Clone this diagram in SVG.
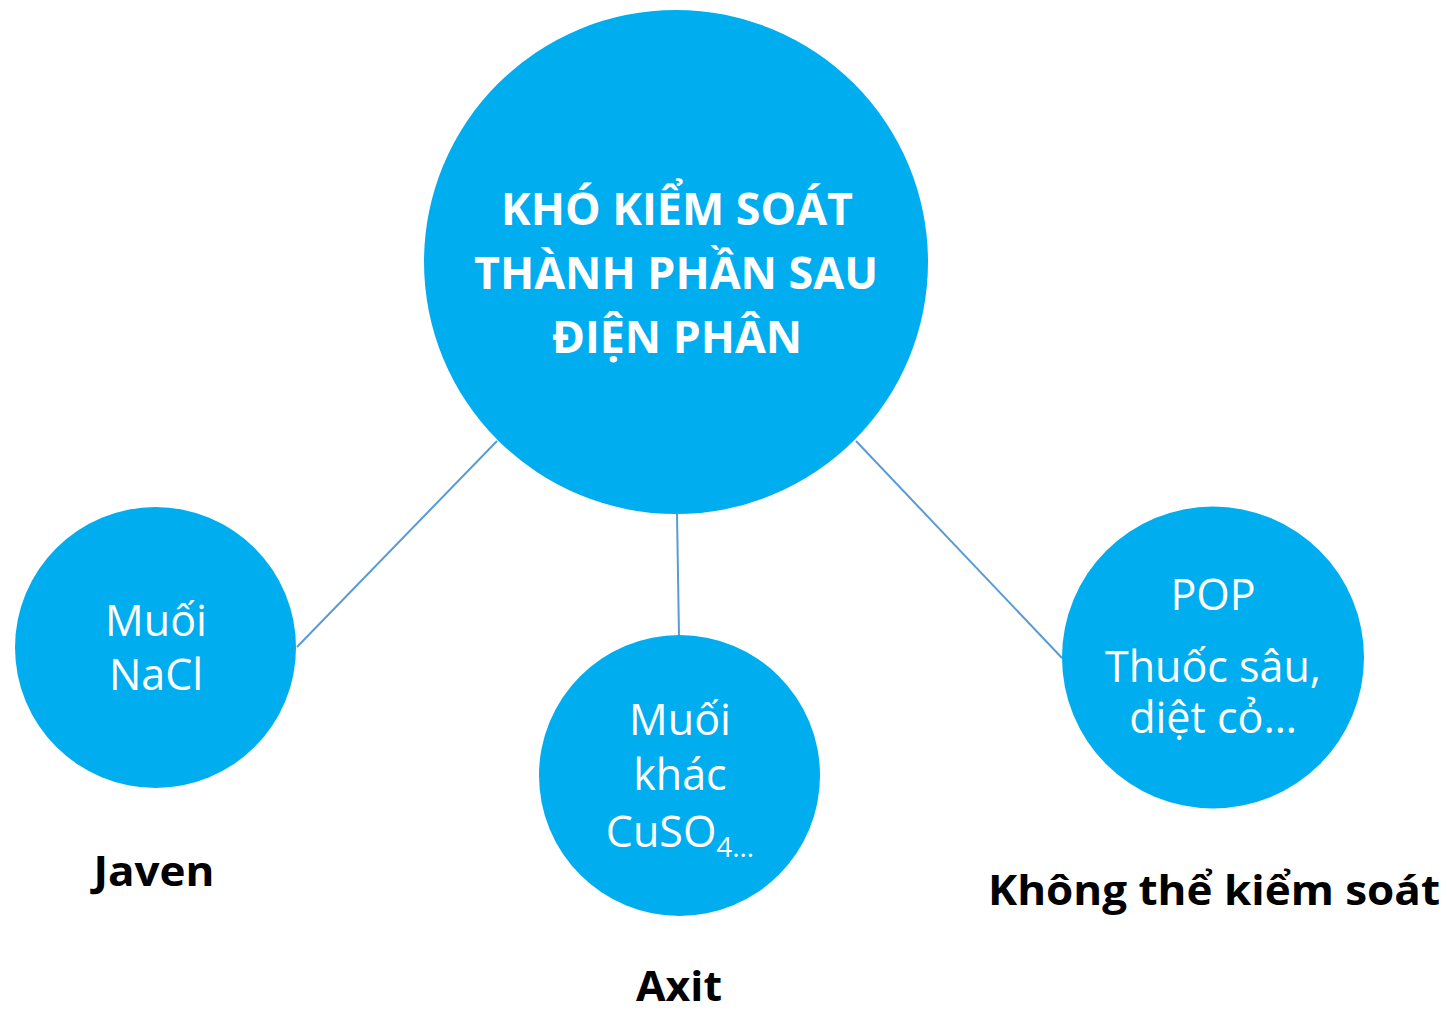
<svg xmlns="http://www.w3.org/2000/svg" width="1447" height="1010" viewBox="0 0 1447 1010">
<style>
.node{fill:#00AEEF;}
.conn{stroke:#5B9BD5;stroke-width:2;fill:none;}
.big{font-family:"Open Sans","Noto Sans",sans-serif;font-weight:bold;font-size:45px;fill:#FFFFFF;text-anchor:middle;}
.sm{font-family:"Open Sans","Noto Sans",sans-serif;font-size:43px;fill:#FFFFFF;text-anchor:middle;}
.lab{font-family:"Open Sans","Noto Sans",sans-serif;font-weight:bold;font-size:42px;fill:#000000;text-anchor:middle;}
</style>
<rect width="1447" height="1010" fill="#FFFFFF"/>
<g id="connectors">
<line class="conn" x1="497" y1="441" x2="297" y2="647"/>
<line class="conn" x1="677" y1="514" x2="679" y2="636"/>
<line class="conn" x1="856" y1="441" x2="1062" y2="658"/>
</g>
<g id="center">
<circle class="node" cx="676" cy="262" r="252"/>
<text class="big" x="677" y="225" textLength="352" lengthAdjust="spacingAndGlyphs">KHÓ KIỂM SOÁT</text>
<text class="big" x="676" y="289" textLength="404" lengthAdjust="spacingAndGlyphs">THÀNH PHẦN SAU</text>
<text class="big" x="677" y="353" textLength="250" lengthAdjust="spacingAndGlyphs">ĐIỆN PHÂN</text>
</g>
<g id="nacl">
<circle class="node" cx="155.5" cy="647.5" r="140.5"/>
<text class="sm" x="156" y="636">Muối</text>
<text class="sm" x="156" y="690">NaCl</text>
</g>
<g id="cuso4">
<circle class="node" cx="679.5" cy="775.5" r="140.5"/>
<text class="sm" x="680" y="735">Muối</text>
<text class="sm" x="680" y="790">khác</text>
<text class="sm" x="680" y="847">CuSO<tspan font-size="28" dy="10">4…</tspan></text>
</g>
<g id="pop">
<circle class="node" cx="1213" cy="657.5" r="151"/>
<text class="sm" x="1213" y="610">POP</text>
<text class="sm" x="1213" y="682">Thuốc sâu,</text>
<text class="sm" x="1213" y="733">diệt cỏ…</text>
</g>
<g id="labels">
<text class="lab" x="154" y="886" textLength="121" lengthAdjust="spacingAndGlyphs">Javen</text>
<text class="lab" x="679" y="1001" textLength="86" lengthAdjust="spacingAndGlyphs">Axit</text>
<text class="lab" x="1214" y="905" textLength="452" lengthAdjust="spacingAndGlyphs">Không thể kiểm soát</text>
</g>
</svg>
